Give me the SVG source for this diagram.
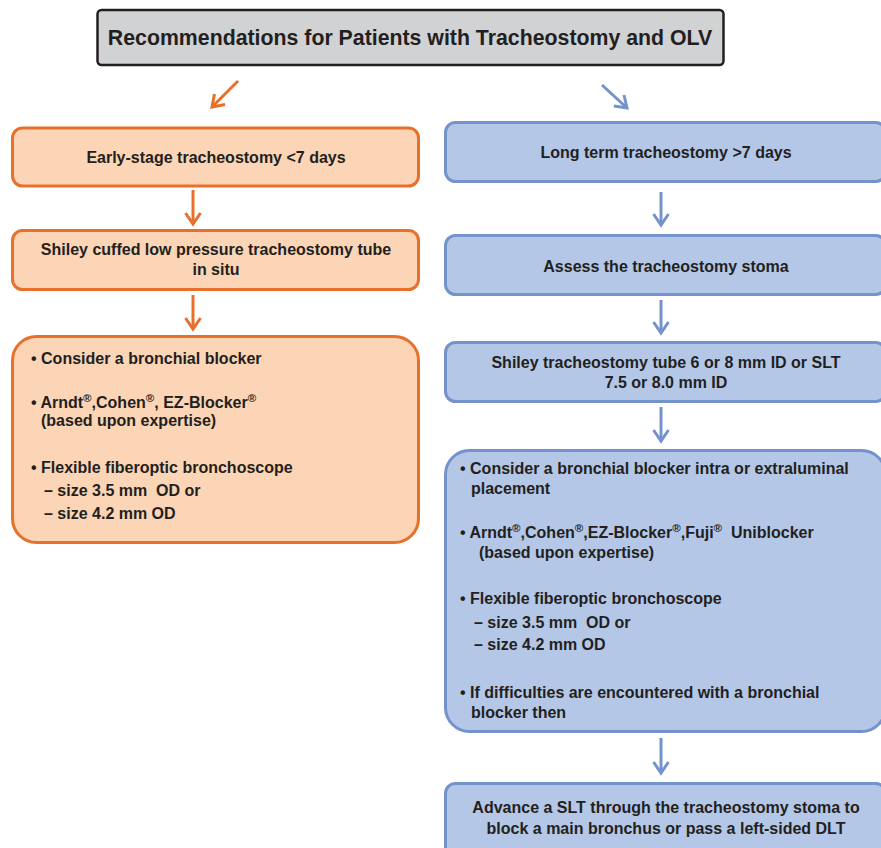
<svg xmlns="http://www.w3.org/2000/svg" width="881" height="848" viewBox="0 0 881 848">
<defs>
<style>
text{font-family:"Liberation Sans",Arial,sans-serif;font-weight:bold;fill:#231f20;font-size:16px}
.t{font-size:21.3px}
.c{text-anchor:middle}
.o{fill:#fbd5b5;stroke:#e8702a;stroke-width:3}
.b{fill:#b4c7e7;stroke:#7493cd;stroke-width:3}
.ol{stroke:#e8702a;stroke-width:3;fill:none}
.bl{stroke:#7493cd;stroke-width:3;fill:none}
.r{font-size:11.5px}
</style>
<marker id="ao" viewBox="-15 -15 30 30" refX="0" refY="0" markerWidth="30" markerHeight="30" markerUnits="userSpaceOnUse" orient="auto">
<path d="M-11,-7.5 L0,0 L-11,7.5" fill="none" stroke="#e8702a" stroke-width="3"/>
</marker>
<marker id="ab" viewBox="-15 -15 30 30" refX="0" refY="0" markerWidth="30" markerHeight="30" markerUnits="userSpaceOnUse" orient="auto">
<path d="M-11,-7.5 L0,0 L-11,7.5" fill="none" stroke="#7493cd" stroke-width="3"/>
</marker>
</defs>
<rect width="881" height="848" fill="#ffffff"/>
<g id="title">
<rect x="97.5" y="10" width="626" height="55" rx="4" fill="#d1d2d4" stroke="#231f20" stroke-width="2.5"/>
<text class="t c" x="410" y="45">Recommendations for Patients with Tracheostomy and OLV</text>
</g>
<g id="connectors">
<path class="ol" d="M238,81 L212,107" marker-end="url(#ao)"/>
<path class="bl" d="M602,85 L627,108" marker-end="url(#ab)"/>
<path class="ol" d="M193,190 L193,224" marker-end="url(#ao)"/>
<path class="ol" d="M193,295 L193,329" marker-end="url(#ao)"/>
<path class="bl" d="M661,192 L661,225" marker-end="url(#ab)"/>
<path class="bl" d="M661,300 L661,333" marker-end="url(#ab)"/>
<path class="bl" d="M661,407 L661,441" marker-end="url(#ab)"/>
<path class="bl" d="M661,738 L661,773" marker-end="url(#ab)"/>
</g>
<g id="early">
<rect class="o" x="12.5" y="128" width="406" height="58" rx="10"/>
<text class="c" x="216" y="163">Early-stage tracheostomy &lt;7 days</text>
</g>
<g id="shiley-cuffed">
<rect class="o" x="12.5" y="230.5" width="406" height="59" rx="10"/>
<text class="c" x="216" y="255">Shiley cuffed low pressure tracheostomy tube</text>
<text class="c" x="216" y="275">in situ</text>
</g>
<g id="left-options">
<rect class="o" x="12.5" y="336.5" width="406" height="206" rx="24"/>
<text x="31" y="364">• Consider a bronchial blocker</text>
<text x="31" y="408">• Arndt<tspan class="r" dy="-6">®</tspan><tspan dy="6">,Cohen</tspan><tspan class="r" dy="-6">®</tspan><tspan dy="6">, EZ-Blocker</tspan><tspan class="r" dy="-6">®</tspan></text>
<text x="41" y="426">(based upon expertise)</text>
<text x="31" y="473">• Flexible fiberoptic bronchoscope</text>
<text x="44" y="496">– size 3.5 mm &#160;OD or</text>
<text x="44" y="519">– size 4.2 mm OD</text>
</g>
<g id="long-term">
<rect class="b" x="445.5" y="122.5" width="440" height="59" rx="10"/>
<text class="c" x="666" y="158">Long term tracheostomy &gt;7 days</text>
</g>
<g id="assess">
<rect class="b" x="445.5" y="235.5" width="440" height="59" rx="10"/>
<text class="c" x="666" y="272">Assess the tracheostomy stoma</text>
</g>
<g id="shiley-tube">
<rect class="b" x="445.5" y="342.5" width="440" height="59" rx="10"/>
<text class="c" x="666" y="368">Shiley tracheostomy tube 6 or 8 mm ID or SLT</text>
<text class="c" x="666" y="388">7.5 or 8.0 mm ID</text>
</g>
<g id="right-options">
<rect class="b" x="445.5" y="450.5" width="440" height="281" rx="24"/>
<text x="460" y="474">• Consider a bronchial blocker intra or extraluminal</text>
<text x="471" y="494">placement</text>
<text x="460" y="538">• Arndt<tspan class="r" dy="-6">®</tspan><tspan dy="6">,Cohen</tspan><tspan class="r" dy="-6">®</tspan><tspan dy="6">,EZ-Blocker</tspan><tspan class="r" dy="-6">®</tspan><tspan dy="6">,Fuji</tspan><tspan class="r" dy="-6">®</tspan><tspan dy="6"> &#160;Uniblocker</tspan></text>
<text x="479" y="558">(based upon expertise)</text>
<text x="460" y="604">• Flexible fiberoptic bronchoscope</text>
<text x="474" y="628">– size 3.5 mm &#160;OD or</text>
<text x="474" y="650">– size 4.2 mm OD</text>
<text x="460" y="698">• If difficulties are encountered with a bronchial</text>
<text x="471" y="718">blocker then</text>
</g>
<g id="advance">
<rect class="b" x="445.5" y="783.5" width="440" height="80" rx="10"/>
<text class="c" x="666" y="813">Advance a SLT through the tracheostomy stoma to</text>
<text class="c" x="666" y="834">block a main bronchus or pass a left-sided DLT</text>
</g>
</svg>
